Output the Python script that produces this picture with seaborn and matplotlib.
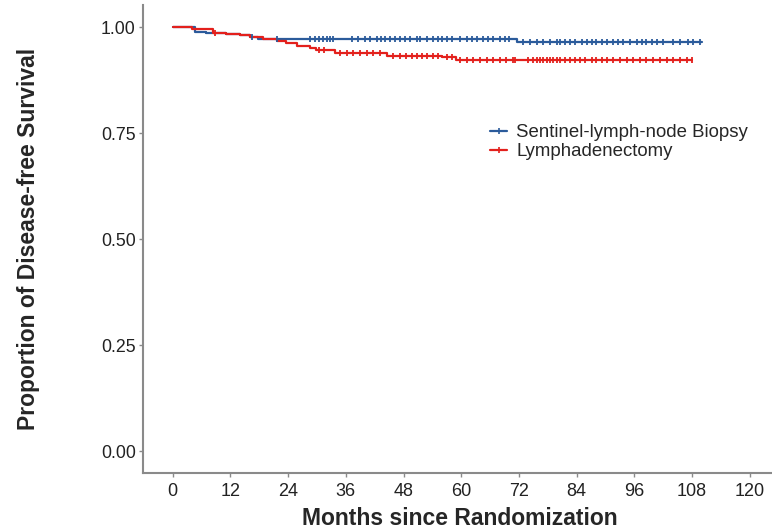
import matplotlib
matplotlib.use("Agg")
import matplotlib.pyplot as plt
import seaborn as sns
import pandas as pd
import numpy as np
from matplotlib.lines import Line2D

# step points (month, survival)
slnb_time = [0, 4.6, 7, 11, 13.9, 16, 17.7, 71.5, 110]
slnb_surv = [1.0, 0.990, 0.986, 0.984, 0.981, 0.977, 0.973, 0.965, 0.965]
lnd_time = [0, 4, 8.4, 11, 13.9, 16, 18.8, 21.6, 23.6, 25.8, 28.5, 29.9, 33.7, 44.5, 55.9, 59, 107.9]
lnd_surv = [1.0, 0.995, 0.986, 0.984, 0.981, 0.977, 0.972, 0.968, 0.963, 0.956,
            0.951, 0.947, 0.939, 0.933, 0.929, 0.922, 0.922]

# censoring times (months)
slnb_cens = [16.4, 21.6, 28.5, 29.5, 30.4, 31.3, 32.0, 32.7, 33.4, 37.2, 38.6, 40.0, 41.0,
             42.4, 43.4, 44.1, 45.2, 46.2, 47.3, 48.3, 49.3, 50.7, 51.4, 52.8, 54.2, 55.2,
             55.9, 57.0, 58.0, 59.7, 61.1, 62.2, 63.2, 64.6, 65.6, 66.7, 68.0, 69.1, 70.0,
             72.9, 74.3, 75.7, 77.0, 78.4, 79.8, 80.5, 81.6, 82.6, 83.7, 85.0, 86.1, 87.1,
             88.1, 89.2, 90.2, 91.6, 92.6, 93.7, 95.1, 96.5, 97.5, 98.5, 99.6, 100.6, 102.0,
             104.1, 105.5, 107.2, 108.2, 109.6]
lnd_cens = [8.8, 30.5, 31.5, 34.8, 36.2, 37.5, 38.9, 40.3, 41.7, 43.1, 45.9, 47.3, 48.6,
            49.7, 50.7, 51.8, 52.8, 54.2, 55.2, 57.0, 58.0, 59.7, 61.1, 62.5, 63.9, 65.3,
            66.7, 68.0, 69.4, 70.8, 71.2, 73.9, 75.0, 75.7, 76.4, 77.0, 77.8, 78.4, 79.1,
            79.8, 80.5, 81.6, 82.6, 83.7, 84.7, 85.7, 87.1, 88.1, 89.2, 90.2, 91.6, 93.0,
            94.4, 95.8, 97.1, 98.5, 99.9, 101.3, 102.7, 104.1, 105.5, 106.9, 107.9]

groups = ["Sentinel-lymph-node Biopsy", "Lymphadenectomy"]
colors = ["#2b5b9b", "#e3201c"]
x_ticks = [0, 12, 24, 36, 48, 60, 72, 84, 96, 108, 120]
y_ticks = [0.00, 0.25, 0.50, 0.75, 1.00]


def step_value(t, times, surv):
    idx = np.searchsorted(times, t, side="right") - 1
    return np.array(surv)[idx]


sns.set_style("white")
plt.rcParams["font.family"] = ["Liberation Sans", "DejaVu Sans"]

fig = plt.figure(figsize=(7.72, 5.29), dpi=100)
ax = fig.add_axes([0.1852, 0.1059, 0.8148, 0.8847])

series = [(slnb_time, slnb_surv, slnb_cens), (lnd_time, lnd_surv, lnd_cens)]
for (t, s, c), name, col in zip(series, groups, colors):
    curve = pd.DataFrame({"month": t, "surv": s})
    sns.lineplot(data=curve, x="month", y="surv", drawstyle="steps-post",
                 color=col, linewidth=1.6, ax=ax, legend=False)
    cens = pd.DataFrame({"month": c, "surv": step_value(c, t, s)})
    sns.scatterplot(data=cens, x="month", y="surv", marker="|", s=22,
                    color=col, linewidth=1.3, ax=ax, legend=False, zorder=3)

ax.set_xlim(-6.17, 124.6)
ax.set_ylim(-0.0507, 1.0526)
ax.set_xticks(x_ticks)
ax.set_yticks(y_ticks)
ax.set_yticklabels([f"{v:.2f}" for v in y_ticks])
ax.tick_params(axis="both", colors="#8a8a8a", labelcolor="#222222",
               length=2.75, width=1, pad=2.5, direction="out", bottom=True, left=True)
ax.tick_params(axis="x", labelsize=13, pad=4.5)
ax.tick_params(axis="y", labelsize=12.8)
ax.set_xlabel("Months since Randomization", fontsize=16.5, fontweight="bold")
ax.set_ylabel("Proportion of Disease-free Survival", fontsize=16.5, fontweight="bold")
ax.xaxis.set_label_coords(0.504, -0.098)
ax.yaxis.set_label_coords(-0.182, 0.5)
ax.xaxis.label.set_va("center")
ax.yaxis.label.set_va("center")

for side in ["top", "right"]:
    ax.spines[side].set_visible(False)
for side in ["left", "bottom"]:
    ax.spines[side].set_color("#8a8a8a")
    ax.spines[side].set_linewidth(1.5)

handles = [Line2D([0], [0], color=col, linewidth=1.6, marker="|", markersize=5,
                  markeredgewidth=1.2) for col in colors]
ax.legend(handles, groups, loc="upper left", bbox_to_anchor=(0.552, 0.745),
          frameon=False, fontsize=13.4, handlelength=0.9, handletextpad=0.5,
          labelspacing=0.1, borderaxespad=0, borderpad=0)

fig.savefig("out.png", dpi=100)
